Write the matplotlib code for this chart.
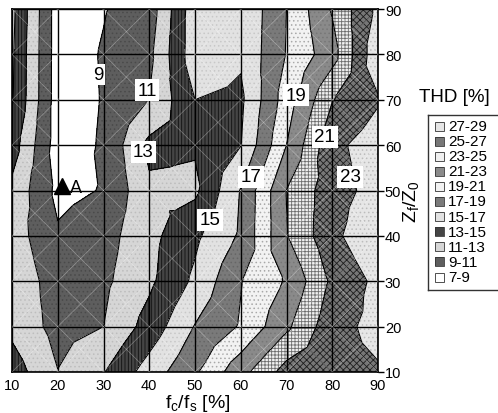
import numpy as np
import matplotlib
matplotlib.use("Agg")
import matplotlib.pyplot as plt
import matplotlib.tri as mtri
from matplotlib.patches import Rectangle

plt.rcParams['font.family'] = ['Liberation Sans', 'DejaVu Sans']

# ---------------- data ----------------
x_vals = [10, 20, 30, 40, 50, 60, 70, 80, 90]          # fc/fs [%]
y_vals = [10, 20, 30, 40, 50, 60, 70, 80, 90]          # Zf/Z0
thd_y10 = [14.0, 11.05, 12.9, 15.9, 18.7, 22.3, 25.8, 26.3, 26.8]
thd_y20 = [12.5, 10.3, 11.0, 13.8, 17.1, 19.2, 22.6, 26.3, 27.6]
thd_y30 = [12.5, 10.0, 10.6, 12.6, 15.4, 18.9, 21.2, 25.4, 27.5]
thd_y40 = [12.0, 9.25, 10.2, 12.4, 14.6, 17.3, 22.9, 26.5, 28.7]
thd_y50 = [12.5, 8.5, 9.1, 12.6, 12.6, 17.1, 23.05, 26.2, 27.7]
thd_y60 = [14.0, 8.0, 9.2, 13.5, 13.2, 14.95, 21.0, 26.5, 28.0]
thd_y70 = [15.2, 8.0, 9.1, 11.05, 15.0, 14.6, 20.0, 24.9, 26.8]
thd_y80 = [15.3, 8.0, 9.14, 10.5, 16.3, 15.3, 19.1, 22.2, 28.5]
thd_y90 = [15.5, 8.0, 8.9, 9.9, 16.3, 15.2, 19.0, 23.2, 27.5]

levels = [7, 9, 11, 13, 15, 17, 19, 21, 23, 25, 27, 29]
band_labels = ['7-9', '9-11', '11-13', '13-15', '15-17', '17-19',
               '19-21', '21-23', '23-25', '25-27', '27-29']
contour_labels = ['9', '11', '13', '15', '17', '19', '21', '23']
label_x = [28.8, 39.5, 38.7, 53.3, 62.2, 72.1, 78.4, 83.9]
label_y = [75.6, 72.1, 58.5, 43.5, 53.0, 71.0, 61.8, 53.0]
point_name = 'A'
point_x = [20.9]
point_y = [51.0]

# ---------------- styles ----------------
band_face = ['#ffffff', '#5e5e5e', '#d6d6d6', '#454545', '#e2e2e2', '#7a7a7a',
             '#f2f2f2', '#8a8a8a', '#f0f0f0', '#777777', '#e6e6e6']
band_hatch = [None, '....', '....', '|||||', '....', '....',
              '....', '....', '+++++', 'xxxxx', '....']
band_hcol = ['#ffffff', '#4a4a4a', '#bdbdbd', '#111111', '#c8c8c8', '#666666',
             '#a8a8a8', '#777777', '#6d6d6d', '#1e1e1e', '#bcbcbc']

Z = np.array([thd_y10, thd_y20, thd_y30, thd_y40, thd_y50,
              thd_y60, thd_y70, thd_y80, thd_y90])
X, Y = np.meshgrid(np.array(x_vals, float), np.array(y_vals, float))

# Excel-like triangulation: each cell split into 4 triangles around its centre
nx, ny = len(x_vals), len(y_vals)
px = list(X.ravel()); py = list(Y.ravel()); pz = list(Z.ravel())
tris = []
for j in range(ny - 1):
    for i in range(nx - 1):
        a = j * nx + i; b = a + 1; c = a + nx + 1; d = a + nx
        px.append((X[j, i] + X[j, i + 1]) / 2)
        py.append((Y[j, i] + Y[j + 1, i]) / 2)
        pz.append((Z[j, i] + Z[j, i + 1] + Z[j + 1, i + 1] + Z[j + 1, i]) / 4)
        m = len(px) - 1
        tris += [[a, b, m], [b, c, m], [c, d, m], [d, a, m]]
tri = mtri.Triangulation(np.array(px), np.array(py), np.array(tris))
pz = np.array(pz)

W, H = 498, 414
fig = plt.figure(figsize=(W / 100, H / 100), dpi=100)
ax = fig.add_axes([12 / W, 1 - 373 / H, 366 / W, 363 / H])

for k in range(len(band_labels)):
    with plt.rc_context({'hatch.color': band_hcol[k], 'hatch.linewidth': 0.6}):
        ax.tricontourf(tri, pz, levels=[levels[k], levels[k + 1]],
                       colors=[band_face[k]], hatches=[band_hatch[k]])
ax.tricontour(tri, pz, levels=levels[1:-1], colors='black', linewidths=0.8)

# faint cell diagonals
for xi in x_vals[:-1]:
    for yi in y_vals[:-1]:
        ax.plot([xi, xi + 10], [yi, yi + 10], color='white', lw=0.5, alpha=0.35, zorder=3)
        ax.plot([xi, xi + 10], [yi + 10, yi], color='white', lw=0.5, alpha=0.35, zorder=3)

ax.set_xlim(10, 90)
ax.set_ylim(10, 90)
ax.set_xticks(x_vals)
ax.set_yticks(y_vals)
ax.grid(True, color='black', lw=1.0, zorder=4)
ax.set_axisbelow(False)
ax.yaxis.tick_right()
ax.tick_params(axis='y', direction='out', length=4, width=1, labelsize=10.5, pad=1)
ax.tick_params(axis='x', length=0, labelsize=10.5, pad=4)
for s in ax.spines.values():
    s.set_linewidth(1.2)

for t, lx, ly in zip(contour_labels, label_x, label_y):
    ax.text(lx, ly, t, fontsize=13.5, ha='center', va='center', zorder=6,
            bbox=dict(boxstyle='square,pad=0.12', facecolor='white', edgecolor='none'))

ax.plot(point_x, point_y, marker='^', color='black', markersize=11, zorder=7, ls='none')
ax.text(point_x[0] + 1.7, point_y[0] - 0.3, point_name, fontsize=13, va='center', ha='left', zorder=7)

fig.text(198 / W, 1 - 404 / H, r'f$_{\mathregular{c}}$/f$_{\mathregular{s}}$ [%]',
         fontsize=14, ha='center', va='center')
fig.text(412 / W, 1 - 202 / H, r'Z$_{\mathregular{f}}$/Z$_{\mathregular{0}}$',
         fontsize=14, ha='center', va='center', rotation=90)
fig.text(454 / W, 1 - 97 / H, 'THD [%]', fontsize=13.5, ha='center', va='center')

# legend box
lax = fig.add_axes([428 / W, 1 - 291 / H, 75 / W, 175 / H])
lax.set_xlim(0, 75); lax.set_ylim(175, 0)
lax.set_xticks([]); lax.set_yticks([])
for s in lax.spines.values():
    s.set_linewidth(1.0); s.set_color('#333333')
n = len(band_labels)
for idx, k in enumerate(range(n - 1, -1, -1)):
    yc = 11 + idx * 15.1
    with plt.rc_context({'hatch.color': band_hcol[k], 'hatch.linewidth': 0.6}):
        r = Rectangle((7, yc - 4.5), 9, 9, facecolor=band_face[k],
                      hatch=band_hatch[k], edgecolor='none', lw=0)
    lax.add_patch(r)
    lax.add_patch(Rectangle((7, yc - 4.5), 9, 9, facecolor='none', edgecolor='#333333', lw=0.6))
    lax.text(20, yc, band_labels[k], fontsize=11, va='center', ha='left')

fig.savefig('out.png', dpi=100)
